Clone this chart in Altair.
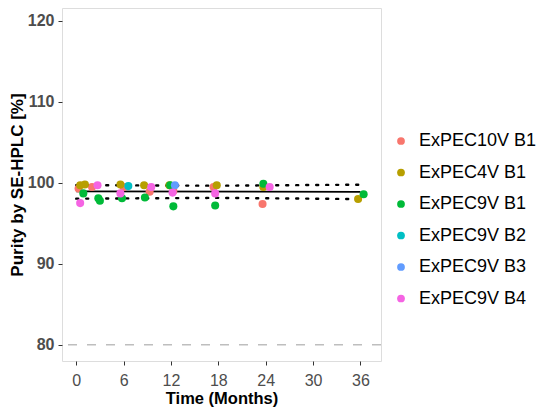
import altair as alt
import pandas as pd

# ---- data ----
series_names = ["ExPEC10V B1", "ExPEC4V B1", "ExPEC9V B1", "ExPEC9V B2", "ExPEC9V B3", "ExPEC9V B4"]
series_colors = ["#F8766D", "#B79F00", "#00BA38", "#00BFC4", "#619CFF", "#F564E3"]

p10v_t = [0.3, 2.0, 6.0, 9.3, 12.3, 17.4, 23.6]
p10v_v = [99.3, 99.5, 99.5, 98.9, 99.0, 99.5, 97.4]
p4v_t = [0.5, 1.1, 5.6, 8.6, 11.8, 17.8, 23.7, 35.7]
p4v_v = [99.7, 99.8, 99.8, 99.7, 99.7, 99.7, 99.5, 98.0]
p9b1_t = [0.9, 2.8, 3.0, 5.8, 8.7, 11.9, 12.3, 17.6, 23.7, 36.4]
p9b1_v = [98.7, 98.1, 97.8, 98.1, 98.2, 99.7, 97.1, 97.2, 99.9, 98.6]
p9b2_t = [6.6]
p9b2_v = [99.6]
p9b3_t = [12.5]
p9b3_v = [99.7]
p9b4_t = [0.5, 2.7, 5.6, 9.5, 12.2, 17.6, 24.5]
p9b4_v = [97.5, 99.7, 98.7, 99.5, 98.8, 98.7, 99.5]

fit_t = [0, 36]
fit_v = [98.95, 98.9]
band_t = [0, 18, 36]
band_upper = [99.72, 99.65, 99.78]
band_lower = [98.05, 98.15, 98.0]

limit_value = [80]
x_ticks = [0, 6, 12, 18, 24, 30, 36]
y_ticks = [80, 90, 100, 110, 120]

# ---- tables ----
rows = []
for name, ts, vs in zip(series_names,
                        [p10v_t, p4v_t, p9b1_t, p9b2_t, p9b3_t, p9b4_t],
                        [p10v_v, p4v_v, p9b1_v, p9b2_v, p9b3_v, p9b4_v]):
    for t, v in zip(ts, vs):
        rows.append({"series": name, "month": t, "purity": v})
pts = pd.DataFrame(rows)
pts["ord"] = range(len(pts))

fit_df = pd.DataFrame({"month": fit_t, "purity": fit_v})
band_df = pd.DataFrame({
    "month": band_t * 2,
    "purity": band_upper + band_lower,
    "side": ["upper"] * len(band_t) + ["lower"] * len(band_t),
})
limit_df = pd.DataFrame({"purity": limit_value})

FONT = "Liberation Sans"

xscale = alt.Scale(domain=[-1.8, 38.6], nice=False, zero=False)
yscale = alt.Scale(domain=[78, 121.6], nice=False, zero=False)

xaxis = alt.Axis(values=x_ticks, title="Time (Months)", grid=False, domain=False,
                 tickColor="#333333", tickSize=4, tickWidth=1,
                 labelFont=FONT, labelFontSize=16, labelColor="#4D4D4D", labelPadding=7,
                 titleFont=FONT, titleFontSize=16.5, titleFontWeight="bold", titleColor="black",
                 titlePadding=2)
yaxis = alt.Axis(values=y_ticks, title="Purity by SE-HPLC [%]", grid=False, domain=False,
                 tickColor="#333333", tickSize=4, tickWidth=1,
                 labelFont=FONT, labelFontSize=16, labelFontWeight="bold", labelColor="#4D4D4D",
                 labelPadding=4,
                 titleFont=FONT, titleFontSize=17, titleFontWeight="bold", titleColor="black",
                 titlePadding=1)

limit = alt.Chart(limit_df).mark_rule(color="#BEBEBE", strokeWidth=1.6, strokeDash=[9, 10]).encode(
    y=alt.Y("purity:Q", scale=yscale, axis=yaxis)
)

fit = alt.Chart(fit_df).mark_line(color="black", strokeWidth=1.8).encode(
    x=alt.X("month:Q", scale=xscale, axis=xaxis),
    y=alt.Y("purity:Q", scale=yscale),
)

band = alt.Chart(band_df).mark_line(color="black", strokeWidth=2.4, strokeDash=[2, 8],
                                    strokeCap="round").encode(
    x=alt.X("month:Q", scale=xscale),
    y=alt.Y("purity:Q", scale=yscale),
    detail="side:N",
)

points = alt.Chart(pts).mark_circle(size=65, opacity=1).encode(
    x=alt.X("month:Q", scale=xscale),
    y=alt.Y("purity:Q", scale=yscale),
    color=alt.Color("series:N",
                    scale=alt.Scale(domain=series_names, range=series_colors),
                    legend=alt.Legend(title=None, orient="none", legendX=330, legendY=124,
                                      symbolType="circle", symbolSize=60, symbolOpacity=1,
                                      labelFont=FONT, labelFontSize=18, labelColor="black",
                                      labelOffset=9, rowPadding=13.5)),
    order="ord:Q",
)

chart = alt.layer(limit, fit, band, points).properties(
    width=319, height=353,
    autosize=alt.AutoSizeParams(type="none"),
    padding={"left": 54, "top": 0, "right": 161, "bottom": 50},
    background="white",
).configure_view(stroke="#666666", strokeWidth=1).configure(font=FONT)

chart.save("out.html", embed_options={"renderer": "svg", "actions": False})
